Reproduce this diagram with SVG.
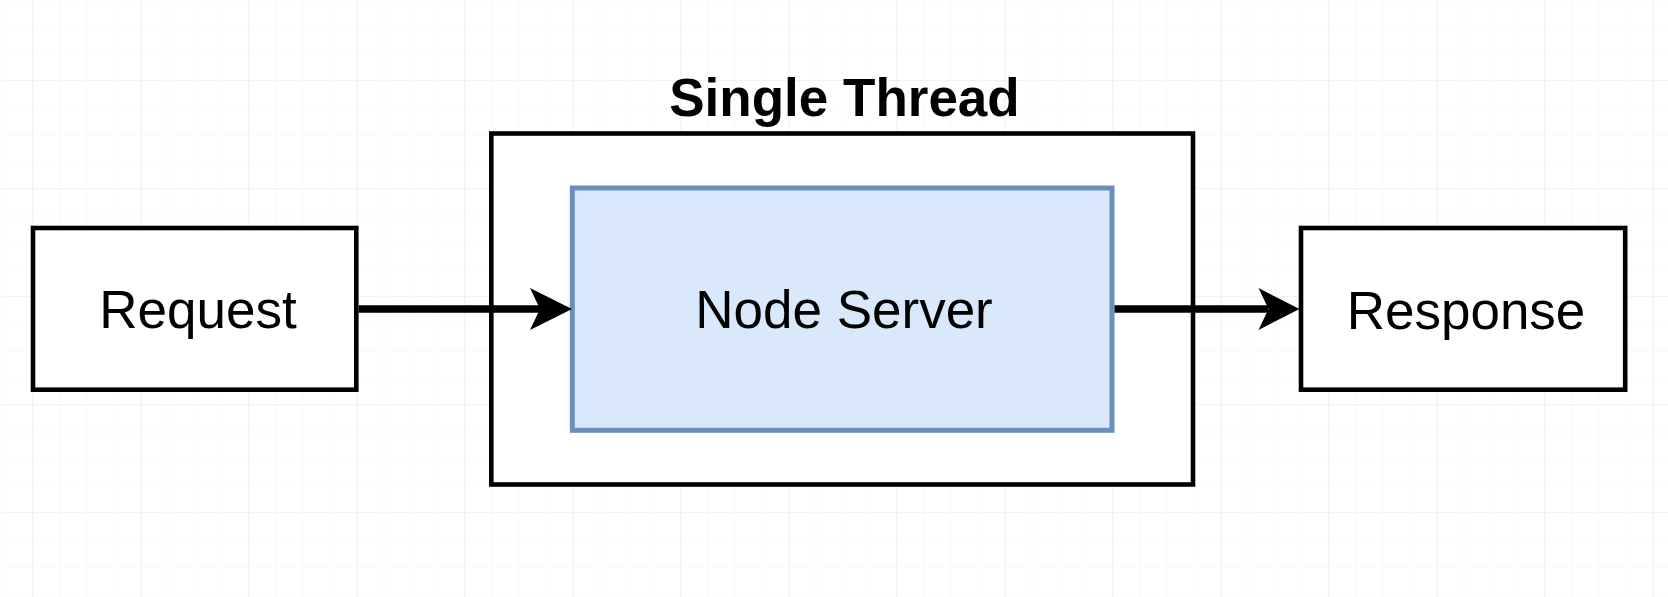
<svg xmlns="http://www.w3.org/2000/svg" width="1668" height="597" viewBox="0 0 1668 597">
  <defs>
    <pattern id="minor" x="5.3" y="-0.7" width="27" height="27" patternUnits="userSpaceOnUse">
      <path d="M0 0 H27 M0 0 V27" fill="none" stroke="#f4f4f4" stroke-width="1"/>
    </pattern>
    <pattern id="major" x="32.3" y="-28" width="108" height="108" patternUnits="userSpaceOnUse">
      <path d="M0 0 H108 M0 0 V108" fill="none" stroke="#e9e9e9" stroke-width="1.2"/>
    </pattern>
  </defs>
  <style>
    .box { fill: #ffffff; stroke: #000000; stroke-width: 4.6; }
    .blue { fill: #dae8fc; stroke: #6c8ebf; stroke-width: 5; }
    .lbl { font-family: "Liberation Sans", Arial, sans-serif; font-size: 53px; fill: #000000; text-anchor: middle; }
    .title { font-family: "Liberation Sans", Arial, sans-serif; font-size: 53px; font-weight: bold; fill: #000000; text-anchor: middle; }
    .edge { fill: none; stroke: #000000; stroke-width: 7.5; }
    .head { fill: #000000; stroke: none; }
  </style>
  <rect width="1668" height="597" fill="#ffffff"/>
  <rect width="1668" height="597" fill="url(#minor)"/>
  <rect width="1668" height="597" fill="url(#major)"/>

  <g id="single-thread">
    <rect class="box" x="491.3" y="133.5" width="701.7" height="351"/>
    <text class="title" x="844.5" y="116">Single Thread</text>
  </g>

  <g id="request">
    <rect class="box" x="33" y="228" width="323.3" height="161.7"/>
    <text class="lbl" x="198" y="328">Request</text>
  </g>

  <g id="node-server">
    <rect class="blue" x="572.3" y="188" width="539.7" height="242.3"/>
    <text class="lbl" x="844" y="328">Node Server</text>
  </g>

  <g id="response">
    <rect class="box" x="1301" y="228" width="324.2" height="161.7"/>
    <text class="lbl" x="1466" y="328.5">Response</text>
  </g>

  <g id="connectors">
    <path class="edge" d="M358.6 309 H540"/>
    <polygon class="head" points="572,309 530,288 540,309 530,330"/>
    <path class="edge" d="M1114.5 309 H1268"/>
    <polygon class="head" points="1299.5,309 1258.5,288 1268.5,309 1258.5,330"/>
  </g>
</svg>
